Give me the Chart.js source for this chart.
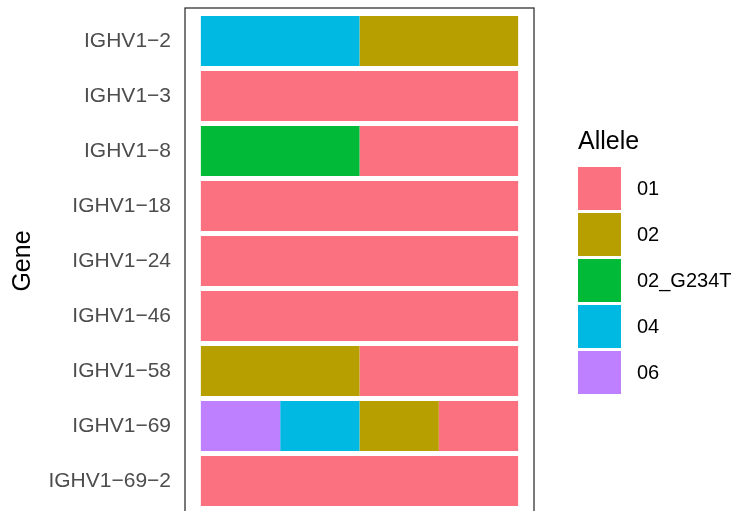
<!DOCTYPE html>
<html>
<head>
<meta charset="utf-8">
<script src="https://cdn.jsdelivr.net/npm/chart.js@4"></script>
<style>
  html, body { margin: 0; padding: 0; background: #fff; }
  #wrap { position: relative; width: 739px; height: 511px; overflow: hidden; font-family: "Liberation Sans", Arial, sans-serif; }
  #chart { position: absolute; left: 0; top: 0; }
  #legend { position: absolute; left: 578px; top: 125px; }
  #legend .title { font-size: 25px; line-height: 30px; color: #000; margin-bottom: 10px; }
  #legend .item { display: flex; align-items: center; height: 46px; }
  #legend .box { width: 43px; height: 43px; margin-right: 16px; }
  #legend .lab { font-size: 20px; color: #000; }
</style>
</head>
<body>
<div id="wrap">
  <canvas id="chart" width="739" height="520"></canvas>
  <div id="legend"></div>
</div>
<script>
const genes = ["IGHV1−2", "IGHV1−3", "IGHV1−8", "IGHV1−18", "IGHV1−24", "IGHV1−46", "IGHV1−58", "IGHV1−69", "IGHV1−69−2"];

// share of each allele per gene, stacked left to right: 06, 04, 02_G234T, 02, 01
const allele06 = [0, 0, 0, 0, 0, 0, 0, 0.25, 0];
const allele04 = [0.5, 0, 0, 0, 0, 0, 0, 0.25, 0];
const allele02G234T = [0, 0, 0.5, 0, 0, 0, 0, 0, 0];
const allele02 = [0.5, 0, 0, 0, 0, 0, 0.5, 0.25, 0];
const allele01 = [0, 1, 0.5, 1, 1, 1, 0.5, 0.25, 1];

const alleleNames = ["06", "04", "02_G234T", "02", "01"];
const alleleColors = ["#BF80FF", "#00B9E3", "#00BA38", "#B79F00", "#FC717F"];
const alleleValues = [allele06, allele04, allele02G234T, allele02, allele01];

const datasets = alleleNames.map((name, k) => ({
  label: name,
  data: alleleValues[k].map((v, i) => ({ x: v || null, y: i })),
  backgroundColor: alleleColors[k],
  borderWidth: 0,
  barPercentage: 50 / 55,
  categoryPercentage: 1
}));

// panel border like ggplot theme_bw
const panelBorder = {
  id: "panelBorder",
  afterDraw(chart) {
    const { ctx, chartArea: a } = chart;
    ctx.save();
    ctx.strokeStyle = "#333333";
    ctx.lineWidth = 1.3;
    ctx.strokeRect(a.left, a.top, a.right - a.left, a.bottom - a.top);
    ctx.restore();
  }
};

new Chart(document.getElementById("chart"), {
  type: "bar",
  data: { datasets },
  options: {
    indexAxis: "y",
    responsive: false,
    animation: false,
    layout: { padding: { left: 0, right: 205, top: 8, bottom: 6 } },
    plugins: { legend: { display: false }, tooltip: { enabled: false } },
    scales: {
      x: {
        type: "linear", stacked: true, min: -0.05, max: 1.05, display: false
      },
      y: {
        type: "linear", stacked: true, reverse: true, min: -0.6, max: 8.6,
        offset: false,
        grid: { display: false, drawTicks: false, offset: false },
        border: { display: false },
        afterFit: s => { s.width = 185; s.paddingTop = 0; s.paddingBottom = 0; },
        ticks: {
          stepSize: 1, includeBounds: false, autoSkip: false, padding: 14,
          color: "#4D4D4D",
          font: { family: "Liberation Sans", size: 21 },
          callback: v => Number.isInteger(v) && genes[v] ? genes[v] : ""
        },
        title: {
          display: true, text: "Gene", color: "#000",
          font: { family: "Liberation Sans", size: 25 },
          padding: { top: 8, bottom: 0 }
        }
      }
    }
  },
  plugins: [panelBorder]
});

// legend in ggplot order
const legend = document.getElementById("legend");
legend.innerHTML = '<div class="title">Allele</div>' +
  alleleNames.map((n, k) => ({ n, c: alleleColors[k] })).reverse()
    .map(d => `<div class="item"><div class="box" style="background:${d.c}"></div><span class="lab">${d.n}</span></div>`).join("");
</script>
</body>
</html>
